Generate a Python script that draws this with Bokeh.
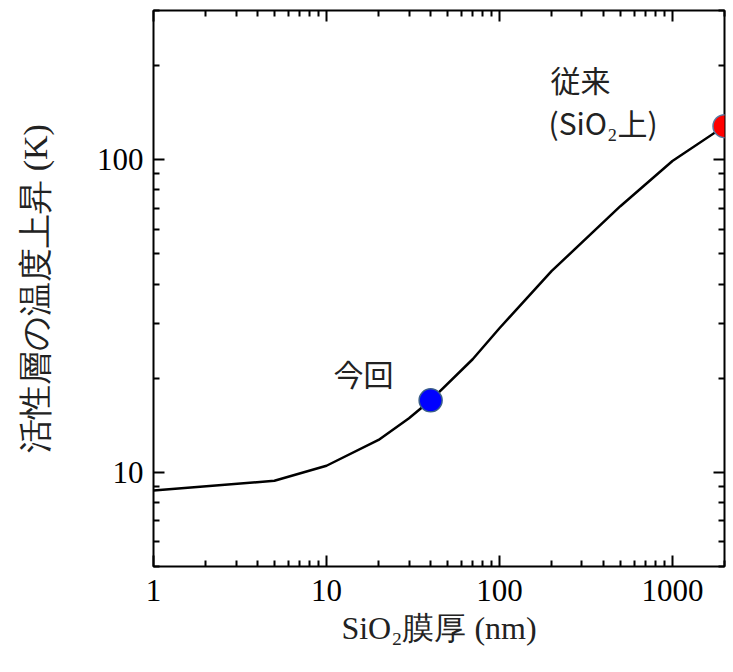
from bokeh.plotting import figure
from bokeh.models import LogAxis, FixedTicker, PrintfTickFormatter, ColumnDataSource
from bokeh.core.properties import value
from bokeh.embed import file_html
from bokeh.resources import INLINE

# Data
thickness_nm = [1, 5, 10, 20, 30, 40, 70, 100, 200, 500, 1000, 2000]
temp_rise_K = [8.75, 9.4, 10.5, 12.7, 14.9, 17.0, 23.0, 28.9, 44.0, 71.0, 99.0, 128.0]

point_x = [40, 2000]
point_y = [17.0, 128.0]
point_colors = ["#0000ff", "#ff0000"]
point_lines = ["#3a5f8a", "#5a7aa0"]

x_major = [1, 10, 100, 1000]
x_minor = [2, 3, 4, 5, 6, 7, 8, 9, 20, 30, 40, 50, 60, 70, 80, 90,
           200, 300, 400, 500, 600, 700, 800, 900, 2000]
y_major = [10, 100]
y_minor = [5, 6, 7, 8, 9, 20, 30, 40, 50, 60, 70, 80, 90, 200, 300]

x_label = "SiO₂膜厚 (nm)"
y_label = "活性層の温度上昇 (K)"
label_now = "今回"
label_old1 = "従来"
label_old2 = "(SiO₂上)"

SERIF = "Liberation Serif"
SANS = "Noto Sans CJK JP"

p = figure(width=733, height=672, x_axis_type="log", y_axis_type="log",
           x_range=(1, 2000), y_range=(5, 300),
           output_backend="svg", toolbar_location=None,
           min_border_left=153, min_border_right=9, min_border_top=10, min_border_bottom=106)

p.background_fill_color = "white"
p.border_fill_color = "white"
p.grid.visible = False
p.outline_line_color = "black"
p.outline_line_width = 2

xt = FixedTicker(ticks=x_major, minor_ticks=x_minor)
yt = FixedTicker(ticks=y_major, minor_ticks=y_minor)

def style(ax, labels=True):
    ax.axis_line_color = None
    ax.major_tick_in = 11
    ax.major_tick_out = 0
    ax.minor_tick_in = 6
    ax.minor_tick_out = 0
    ax.major_tick_line_width = 2
    ax.minor_tick_line_width = 2
    ax.major_tick_line_color = "black"
    ax.minor_tick_line_color = "black"
    ax.formatter = PrintfTickFormatter(format="%d")
    if labels:
        ax.major_label_text_font = SERIF
        ax.major_label_text_font_size = "31px"
        ax.major_label_text_color = "black"
    else:
        ax.major_label_text_font_size = "0px"
        ax.major_label_text_color = None
        ax.major_label_standoff = 0

xa = p.xaxis[0]
xa.ticker = xt
style(xa)
xa.major_label_standoff = 13
xa.axis_label = x_label
xa.axis_label_text_font = SERIF
xa.axis_label_text_font_size = "32px"
xa.axis_label_text_font_style = "normal"
xa.axis_label_text_color = "#222222"
xa.axis_label_standoff = 6

ya = p.yaxis[0]
ya.ticker = yt
style(ya)
ya.major_label_standoff = 10
ya.axis_label = y_label
ya.axis_label_text_font = SERIF
ya.axis_label_text_font_size = "34px"
ya.axis_label_text_font_style = "normal"
ya.axis_label_text_color = "#222222"
ya.axis_label_standoff = 40

top = LogAxis(ticker=xt)
style(top, labels=False)
p.add_layout(top, "above")
right = LogAxis(ticker=yt)
style(right, labels=False)
p.add_layout(right, "right")

src = ColumnDataSource(dict(x=thickness_nm, y=temp_rise_K))
p.line("x", "y", source=src, line_color="black", line_width=2.5)

psrc = ColumnDataSource(dict(x=point_x, y=point_y, c=point_colors, lc=point_lines))
p.scatter("x", "y", source=psrc, size=23, fill_color="c", line_color="lc", line_width=1.5)

p.text(x=[point_x[0]], y=[point_y[0]], text=[label_now], x_offset=-97, y_offset=-27,
       text_font=value(SANS), text_font_size="30px", text_color="#222222",
       text_baseline="middle", text_align="left")
p.text(x=[point_x[1]], y=[point_y[1]], text=[label_old1], x_offset=-174, y_offset=-47,
       text_font=value(SANS), text_font_size="30px", text_color="#222222",
       text_baseline="middle", text_align="left")
p.text(x=[point_x[1]], y=[point_y[1]], text=[label_old2], x_offset=-176, y_offset=-4,
       text_font=value(SANS), text_font_size="30px", text_color="#222222",
       text_baseline="middle", text_align="left")

open("out.html", "w").write(file_html(p, INLINE))
